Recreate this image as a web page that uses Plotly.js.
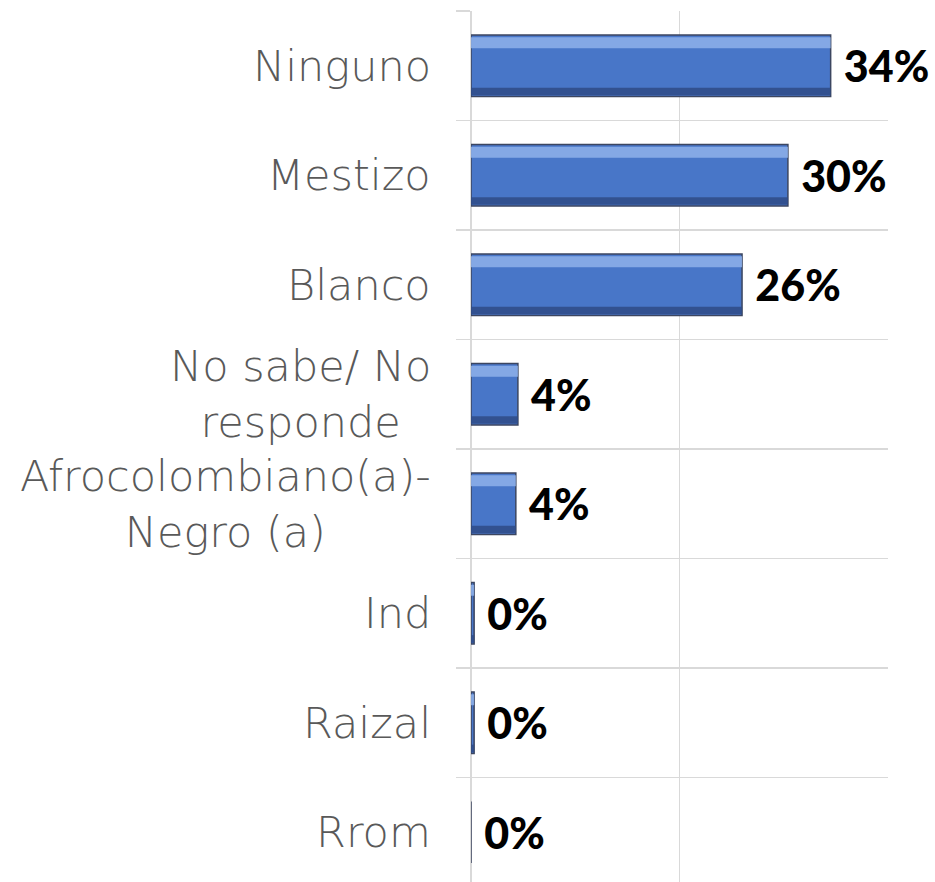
<!DOCTYPE html>
<html>
<head>
<meta charset="utf-8">
<script src="https://cdn.plot.ly/plotly-3.0.1.min.js"></script>
<style>
html, body { margin: 0; padding: 0; overflow: hidden; background: #fff; }
#chart { width: 935px; height: 890px; }
</style>
</head>
<body>
<div id="chart"></div>
<script>
const categories = ["Ninguno", "Mestizo", "Blanco", "No sabe/ No<br>responde", "Afrocolombiano(a)-<br>Negro (a)", "Ind", "Raizal", "Rrom"];
const values = [0.345, 0.304, 0.26, 0.045, 0.043, 0.003, 0.003, 0];
const valueLabels = ["34%", "30%", "26%", "4%", "4%", "0%", "0%", "0%"];
const xTicks = [0, 0.2, 0.4];

const NBSP = "\u00a0";
const baseBar = {
  type: "bar", orientation: "h",
  x: values, y: categories,
  width: 0.56,
  marker: { color: "#4876c8", line: { color: "#3c4660", width: 1.5 } },
  text: valueLabels.map(t => NBSP + t),
  textposition: "outside",
  constraintext: "none",
  cliponaxis: false,
  textfont: { family: "Lato, 'DejaVu Sans', sans-serif", size: 43, color: "#000", weight: 900 },
  hoverinfo: "skip", showlegend: false
};
const highlight = {
  type: "bar", orientation: "h",
  x: values, y: categories,
  width: 0.1, offset: -0.26,
  marker: { color: "#8fb2ea", opacity: 0.85, line: { width: 0 } },
  hoverinfo: "skip", showlegend: false
};
const shadow = {
  type: "bar", orientation: "h",
  x: values, y: categories,
  width: 0.07, offset: 0.20,
  marker: { color: "#2f4b86", opacity: 0.85, line: { width: 0 } },
  hoverinfo: "skip", showlegend: false
};

const annotations = categories.map(c => ({
  xref: "paper", yref: "y",
  x: 0, y: c,
  xanchor: "right", yanchor: "middle",
  xshift: -38,
  align: "center",
  showarrow: false,
  text: c,
  font: { family: "'DejaVu Sans', sans-serif", size: 43, color: "#595959", weight: 200 }
}));

const layout = {
  width: 935, height: 890,
  margin: { l: 471, r: 47, t: 11, b: 3 },
  paper_bgcolor: "#fff", plot_bgcolor: "#fff",
  barmode: "overlay",
  xaxis: {
    range: [0, 0.4], tickvals: xTicks, showticklabels: false,
    showgrid: true, gridcolor: "#d9d9d9", gridwidth: 1.5,
    zeroline: true, zerolinecolor: "#d9d9d9", zerolinewidth: 1.5,
    showline: false, fixedrange: true
  },
  yaxis: {
    type: "category", categoryorder: "array", categoryarray: categories,
    autorange: "reversed",
    tickson: "boundaries", ticks: "outside", ticklen: 14, tickcolor: "#d9d9d9", tickwidth: 1.5,
    showticklabels: false,
    showgrid: true, gridcolor: "#d9d9d9", gridwidth: 1.5,
    showline: false, zeroline: false, fixedrange: true
  },
  annotations: annotations
};

Plotly.newPlot("chart", [baseBar, highlight, shadow], layout, { displayModeBar: false, staticPlot: true });
</script>
</body>
</html>
